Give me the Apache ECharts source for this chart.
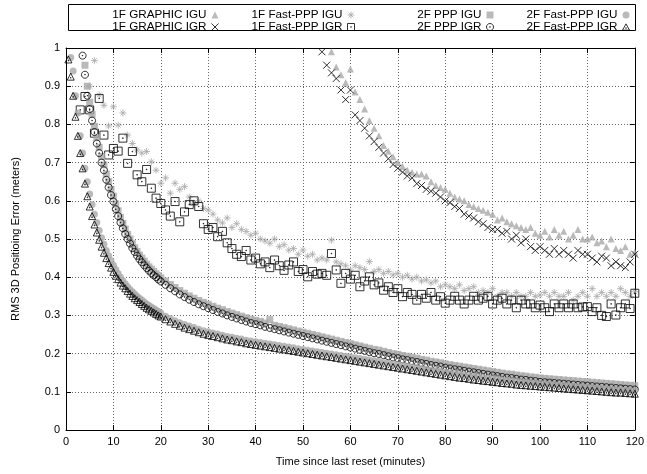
<!DOCTYPE html>
<html><head><meta charset="utf-8">
<script src="https://cdn.jsdelivr.net/npm/echarts@6/dist/echarts.min.js"></script>
<style>html,body{margin:0;padding:0;background:#fff}#c{width:647px;height:474px}</style>
</head><body><div id="c"></div>
<script>
// ---- time samples (minutes) ----
const tLate = [21,22,23,24,25,26,27,28,29,30,31,32,33,34,35,36,37,38,39,40,41,42,43,44,45,46,47,48,49,50,
51,52,53,54,55,56,57,58,59,60,61,62,63,64,65,66,67,68,69,70,71,72,73,74,75,76,77,78,79,80,
81,82,83,84,85,86,87,88,89,90,91,92,93,94,95,96,97,98,99,100,101,102,103,104,105,106,107,108,109,110,
111,112,113,114,115,116,117,118,119,120];
const tHalfFast = [0.5,1,1.5,2,2.5,3,3.5,4,4.5,5,5.5,6,6.5,7,7.5,8,8.5,9,9.5,10,10.5,11,11.5,12,12.5,13,13.5,14,14.5,15,15.5,16,16.5,17,17.5,18,18.5,19,19.5,20];
const tHalfPPP = [3.5,4,4.5,5,5.5,6,6.5,7,7.5,8,8.5,9,9.5,10,10.5,11,11.5,12,12.5,13,13.5,14,14.5,15,15.5,16,16.5,17,17.5,18,18.5,19,19.5,20];
const t1FFastEarly = [3,4,5,6,7,8,9,10,11,12,13,14,15,16,17,18,19,20];
const t1FGraphic = [54,55,56,57,58,59,60,61,62,63,64,65,66,67,68,69,70,71,72,73,74,75,76,77,78,79,80,
81,82,83,84,85,86,87,88,89,90,91,92,93,94,95,96,97,98,99,100,101,102,103,104,105,106,107,108,109,110,
111,112,113,114,115,116,117,118,119,120];

// ---- values (meters) ----
const graphicIGU1F = [null,null,0.99,0.95,0.93,0.91,0.945,0.885,0.865,0.84,
0.81,0.79,0.77,0.745,0.73,0.715,0.7,0.69,0.68,0.675,
0.67,0.67,0.665,0.65,0.64,0.635,0.63,0.62,0.61,0.605,
0.6,0.59,0.585,0.58,0.575,0.57,0.565,0.55,0.555,0.545,
0.54,0.535,0.53,0.525,0.53,0.515,0.51,0.52,0.505,0.525,
0.51,0.52,0.5,0.51,0.525,0.5,0.5,0.505,0.49,0.495,
0.48,0.5,0.475,0.47,0.48,0.46,0.465];
const graphicIGR1F = [0.99,0.955,0.935,0.92,0.89,0.865,0.89,0.825,0.81,0.79,
0.77,0.755,0.74,0.725,0.71,0.695,0.685,0.675,0.665,0.66,
0.645,0.64,0.63,0.625,0.62,0.61,0.6,0.595,0.585,0.58,
0.565,0.56,0.555,0.545,0.54,0.53,0.525,0.525,0.515,0.52,
0.5,0.51,0.49,0.5,0.48,0.47,0.48,0.47,0.46,0.475,
0.46,0.47,0.46,0.45,0.47,0.46,0.46,0.45,0.44,0.455,
0.45,0.43,0.44,0.43,0.425,0.44,0.46];
const fastIGU1F = [null,null,0.90,0.967,0.877,0.85,0.796,0.846,0.798,0.83,
0.772,0.75,0.733,0.725,0.729,0.702,0.68,0.646,0.66,0.62,
0.646,0.63,0.637,0.61,0.594,0.6,0.58,0.576,0.565,0.55,
0.542,0.555,0.53,0.54,0.525,0.52,0.51,0.515,0.5,0.495,
0.489,0.5,0.48,0.485,0.471,0.475,0.46,0.471,0.455,0.46,
0.445,0.45,0.445,0.497,0.44,0.435,0.43,0.419,0.43,0.425,
0.42,0.441,0.415,0.42,0.41,0.415,0.406,0.41,0.4,0.405,
0.395,0.4,0.39,0.393,0.385,0.39,0.375,0.38,0.375,0.37,
0.38,0.365,0.37,0.375,0.36,0.365,0.36,0.37,0.35,0.36,
0.36,0.35,0.36,0.35,0.35,0.36,0.35,0.353,0.36,0.35,
0.36,0.35,0.35,0.36,0.34,0.35,0.36,0.35,0.37,0.35,
0.36,0.35,0.36,0.35,0.37,0.36,0.35,0.362];
const fastIGR1F = [0.838,0.873,0.838,0.777,0.868,0.772,0.72,0.737,0.73,0.764,
0.698,0.729,0.668,0.65,0.682,0.633,0.607,0.593,0.576,0.56,
0.598,0.545,0.571,0.59,0.6,0.585,0.54,0.525,0.53,0.506,
0.52,0.49,0.475,0.46,0.454,0.47,0.445,0.45,0.435,0.44,
0.425,0.445,0.43,0.418,0.432,0.44,0.415,0.42,0.401,0.415,
0.408,0.41,0.405,0.462,0.419,0.384,0.41,0.395,0.405,0.375,
0.39,0.401,0.38,0.385,0.366,0.375,0.36,0.37,0.349,0.36,
0.355,0.34,0.355,0.345,0.36,0.34,0.349,0.332,0.34,0.35,
0.34,0.33,0.34,0.35,0.34,0.345,0.35,0.33,0.34,0.345,
0.33,0.34,0.32,0.34,0.33,0.33,0.32,0.327,0.32,0.31,
0.33,0.32,0.33,0.32,0.33,0.32,0.322,0.323,0.31,0.32,
0.3,0.297,0.33,0.301,0.32,0.33,0.318,0.358];
const pppIGU2F = [null,0.955,0.9,0.858,0.826,0.795,0.765,0.74,0.716,0.694,
0.67,0.65,0.63,0.612,0.592,0.574,0.556,0.541,0.526,0.512,
0.5,0.488,0.477,0.467,0.458,0.45,0.442,0.434,0.427,0.421,
0.415,0.409,0.404,0.398,
0.39,0.381,0.373,0.365,0.358,0.351,0.345,0.339,0.334,0.329,
0.324,0.319,0.315,0.31,0.306,0.302,0.298,0.294,0.29,0.287,
0.284,0.28,0.289,0.274,0.271,0.268,0.265,0.262,0.259,0.256,
0.253,0.25,0.247,0.244,0.241,0.238,0.235,0.232,0.229,0.226,
0.223,0.22,0.217,0.214,0.211,0.209,0.206,0.203,0.2,0.198,
0.195,0.193,0.19,0.188,0.185,0.183,0.18,0.178,0.176,0.173,
0.171,0.169,0.167,0.165,0.163,0.161,0.159,0.157,0.155,0.153,
0.151,0.149,0.147,0.146,0.144,0.142,0.141,0.139,0.138,0.136,
0.135,0.134,0.133,0.132,0.131,0.13,0.129,0.128,0.127,0.126,
0.125,0.124,0.123,0.122,0.121,0.12,0.119,0.118,0.117,0.116];
const pppIGR2F = [0.98,0.93,0.875,0.84,0.81,0.78,0.75,0.725,0.70,0.68,
0.655,0.635,0.615,0.598,0.578,0.56,0.543,0.528,0.513,0.5,
0.488,0.476,0.466,0.456,0.447,0.439,0.431,0.424,0.417,0.411,
0.405,0.4,0.394,0.389,
0.38,0.371,0.363,0.355,0.348,0.341,0.335,0.329,0.324,0.319,
0.314,0.309,0.305,0.3,0.296,0.292,0.288,0.284,0.28,0.277,
0.274,0.27,0.267,0.264,0.261,0.258,0.255,0.252,0.249,0.246,
0.243,0.24,0.237,0.234,0.231,0.228,0.225,0.222,0.219,0.216,
0.213,0.21,0.207,0.204,0.201,0.199,0.196,0.193,0.19,0.188,
0.185,0.183,0.18,0.178,0.175,0.173,0.17,0.168,0.166,0.163,
0.161,0.159,0.157,0.155,0.153,0.151,0.149,0.147,0.145,0.143,
0.141,0.139,0.137,0.136,0.134,0.132,0.131,0.129,0.128,0.126,
0.125,0.124,0.123,0.122,0.121,0.12,0.119,0.118,0.117,0.116,
0.115,0.114,0.113,0.112,0.111,0.11,0.109,0.108,0.107,0.106];
const fastIGU2F = [null,0.975,0.94,0.875,0.83,0.77,0.725,0.685,0.65,0.618,
0.59,0.565,0.543,0.522,0.503,0.486,0.47,0.456,0.443,0.431,
0.42,0.41,0.4,0.391,0.383,0.375,0.368,0.362,0.356,0.35,
0.345,0.34,0.335,0.33,0.326,0.322,0.318,0.314,0.31,0.306,
0.298,0.292,0.286,0.281,0.276,0.272,0.268,0.264,0.26,0.257,
0.254,0.251,0.248,0.245,0.243,0.24,0.238,0.235,0.233,0.231,
0.229,0.227,0.225,0.223,0.221,0.219,0.217,0.215,0.213,0.211,
0.209,0.207,0.205,0.203,0.201,0.199,0.197,0.195,0.193,0.191,
0.189,0.187,0.185,0.183,0.181,0.179,0.177,0.175,0.173,0.171,
0.169,0.167,0.165,0.163,0.161,0.159,0.157,0.155,0.153,0.151,
0.149,0.147,0.145,0.144,0.142,0.14,0.139,0.137,0.136,0.134,
0.133,0.131,0.13,0.129,0.127,0.126,0.125,0.124,0.123,0.122,
0.121,0.12,0.119,0.118,0.117,0.116,0.115,0.114,0.113,0.112,
0.111,0.11,0.109,0.108,0.107,0.106,0.106,0.105,0.104,0.103];
const fastIGR2F = [0.97,0.925,0.875,0.82,0.77,0.725,0.685,0.645,0.612,0.585,
0.56,0.538,0.517,0.498,0.48,0.464,0.45,0.437,0.425,0.414,
0.404,0.395,0.386,0.378,0.371,0.364,0.357,0.351,0.345,0.34,
0.335,0.33,0.325,0.32,0.316,0.312,0.308,0.304,0.3,0.297,
0.29,0.284,0.278,0.273,0.268,0.264,0.26,0.256,0.252,0.249,
0.246,0.243,0.24,0.237,0.235,0.232,0.23,0.227,0.225,0.223,
0.221,0.219,0.217,0.215,0.213,0.211,0.209,0.207,0.205,0.203,
0.201,0.199,0.197,0.195,0.193,0.191,0.189,0.187,0.185,0.183,
0.181,0.179,0.177,0.175,0.173,0.171,0.169,0.167,0.165,0.163,
0.161,0.159,0.157,0.155,0.153,0.151,0.149,0.147,0.145,0.143,
0.141,0.139,0.137,0.136,0.134,0.132,0.131,0.129,0.128,0.126,
0.125,0.123,0.122,0.121,0.119,0.118,0.117,0.116,0.115,0.114,
0.113,0.112,0.111,0.11,0.109,0.108,0.107,0.106,0.105,0.104,
0.103,0.102,0.101,0.1,0.099,0.098,0.098,0.097,0.096,0.095];

const seriesNames = ['1F GRAPHIC IGU','1F GRAPHIC IGR','1F Fast-PPP IGU','1F Fast-PPP IGR',
  '2F PPP IGU','2F PPP IGR','2F Fast-PPP IGU','2F Fast-PPP IGR'];

// ---- styling ----
const FONT = '"Liberation Sans", Arial, Helvetica, sans-serif';
const GRAY = '#a9a9a9';
const SYM = {
  cross: 'path://M0,0L10,10M10,0L0,10',
  star: 'path://M5,0L5,10M0,5L10,5M1.5,1.5L8.5,8.5M8.5,1.5L1.5,8.5',
  sqDot: 'path://M0,0L10,0L10,10L0,10Z M4.6,4.6L5.4,4.6L5.4,5.4L4.6,5.4Z',
  ciDot: 'path://M0,5C0,2.24 2.24,0 5,0C7.76,0 10,2.24 10,5C10,7.76 7.76,10 5,10C2.24,10 0,7.76 0,5Z M4.6,4.6L5.4,4.6L5.4,5.4L4.6,5.4Z',
  trDot: 'path://M5,0L10,9L0,9Z M4.6,5.6L5.4,5.6L5.4,6.4L4.6,6.4Z'
};
const filledGray = {color: GRAY, borderWidth: 0};
const openBlack = {color: 'rgba(0,0,0,0)', borderColor: '#000', borderWidth: 1};
const strokeGray = {color: 'rgba(0,0,0,0)', borderColor: GRAY, borderWidth: 1};

function pts(t, v) { return t.map((x, i) => [x, v[i]]).filter(d => d[1] != null); }
const t1FFast = t1FFastEarly.concat(tLate);
const tFast2F = tHalfFast.concat(tLate);
const tPPP2F = tHalfPPP.concat(tLate);

const look = [
  {symbol: 'triangle', size: 7, style: filledGray},
  {symbol: SYM.cross, size: 7, style: openBlack},
  {symbol: SYM.star, size: 7, style: strokeGray},
  {symbol: SYM.sqDot, size: 8, style: openBlack},
  {symbol: 'rect', size: 7, style: filledGray},
  {symbol: SYM.ciDot, size: 7, style: openBlack},
  {symbol: 'circle', size: 7, style: filledGray},
  {symbol: SYM.trDot, size: 7, style: openBlack}
];
const seriesData = [
  pts(t1FGraphic, graphicIGU1F), pts(t1FGraphic, graphicIGR1F),
  pts(t1FFast, fastIGU1F), pts(t1FFast, fastIGR1F),
  pts(tPPP2F, pppIGU2F), pts(tPPP2F, pppIGR2F),
  pts(tFast2F, fastIGU2F), pts(tFast2F, fastIGR2F)
];
const series = seriesNames.map((name, i) => ({
  name, type: 'scatter', data: seriesData[i], symbol: look[i].symbol, symbolSize: look[i].size,
  itemStyle: look[i].style, clip: true, animation: false, emphasis: {disabled: true}
}));

const txt = {fontFamily: FONT, fontSize: 11, color: '#000'};
const legendBase = {orient: 'vertical', align: 'right', itemGap: 0, itemWidth: 7, itemHeight: 7,
  padding: 0, top: 9, selectedMode: false,
  textStyle: {fontFamily: FONT, fontSize: 11.7, color: '#000', lineHeight: 11}};
const legendCols = [[0,1,428],[2,3,292],[4,5,153],[6,7,17]];
function legItem(i) {
  return {name: seriesNames[i], icon: look[i].symbol, itemStyle: Object.assign({}, look[i].style)};
}

const gridLine = {show: true, lineStyle: {type: [1, 2], color: '#666', width: 1}};
const axisLine = {show: true, onZero: false, lineStyle: {color: '#000', width: 1}};
const tick = {show: true, inside: true, length: 5, lineStyle: {color: '#000'}};

const option = {
  backgroundColor: '#fff',
  animation: false,
  grid: {left: 66, right: 11, top: 48, bottom: 44, show: false},
  legend: legendCols.map(c => Object.assign({}, legendBase,
    {data: [legItem(c[0]), legItem(c[1])], right: c[2]})),
  xAxis: [
    {type: 'value', min: 0, max: 120, interval: 10, axisLine, axisTick: tick,
     axisLabel: Object.assign({margin: 6}, txt), splitLine: gridLine,
     name: 'Time since last reset (minutes)', nameLocation: 'middle', nameGap: 26, nameTextStyle: txt},
    {type: 'value', position: 'top', min: 0, max: 120, interval: 10, axisLine, axisTick: tick,
     axisLabel: {show: false}, splitLine: {show: false}}
  ],
  yAxis: [
    {type: 'value', min: 0, max: 1, interval: 0.1, axisLine, axisTick: tick,
     axisLabel: Object.assign({margin: 6}, txt), splitLine: gridLine,
     name: 'RMS 3D Positioing Error (meters)', nameLocation: 'middle', nameGap: 45, nameTextStyle: txt},
    {type: 'value', position: 'right', min: 0, max: 1, interval: 0.1, axisLine, axisTick: tick,
     axisLabel: {show: false}, splitLine: {show: false}}
  ],
  graphic: [{type: 'rect', shape: {x: 68.5, y: 4.5, width: 567, height: 26},
    style: {fill: 'none', stroke: '#000', lineWidth: 1}, silent: true}],
  series
};
const chart = echarts.init(document.getElementById('c'), null, {renderer: 'canvas'});
chart.setOption(option);
</script></body></html>
